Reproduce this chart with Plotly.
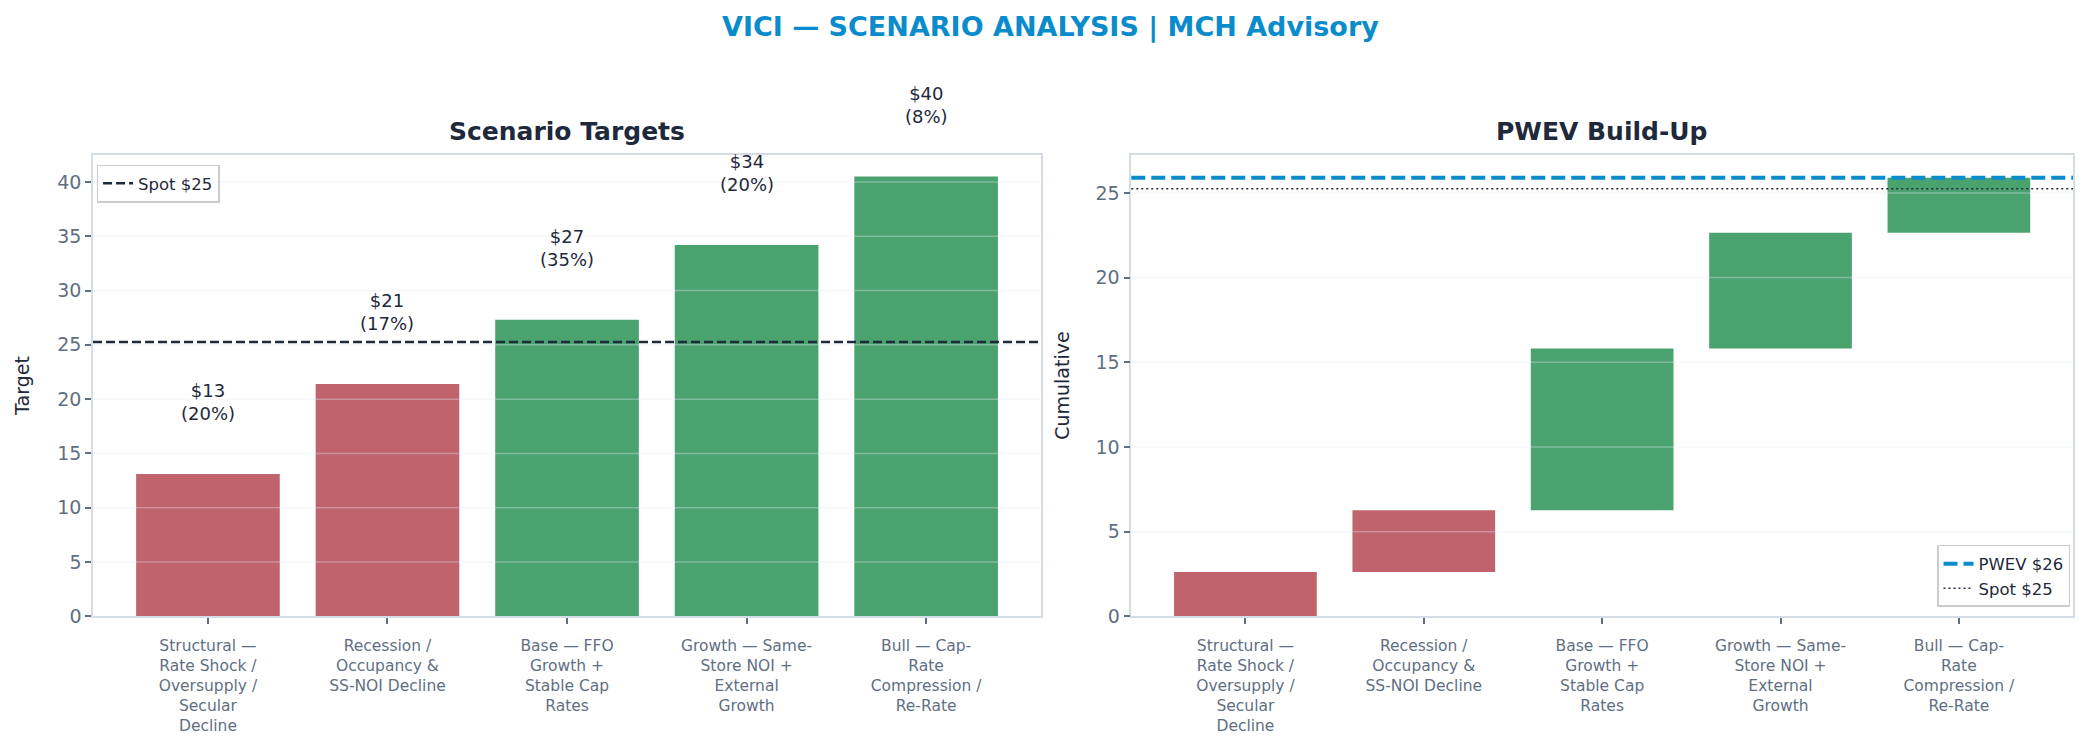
import plotly.graph_objects as go

# scenario data
scenarios = [
    "Structural —<br>Rate Shock /<br>Oversupply /<br>Secular<br>Decline",
    "Recession /<br>Occupancy &<br>SS-NOI Decline",
    "Base — FFO<br>Growth +<br>Stable Cap<br>Rates",
    "Growth — Same-<br>Store NOI +<br>External<br>Growth",
    "Bull — Cap-<br>Rate<br>Compression /<br>Re-Rate",
]
targets = [13.1, 21.4, 27.3, 34.2, 40.5]
probs = [0.20, 0.17, 0.35, 0.20, 0.08]
spot = 25.25
left_ticks = [0, 5, 10, 15, 20, 25, 30, 35, 40]
right_ticks = [0, 5, 10, 15, 20, 25]

RED = "#c0636d"
GREEN = "#4aa36f"
BLUE = "#0a8ccc"
DARK = "#1e293b"
SLATE = "#5f6f83"
FRAME = "#d5dce6"
FONT = "DejaVu Sans"

LEFT_DOM = [0.0408, 0.4957]
RIGHT_DOM = [0.539, 0.9909]
Y_DOM = [0.1678, 0.7992]
LEFT_MAX = 42.5
RIGHT_MAX = 27.25

xs = list(range(len(scenarios)))
colors = [RED if t < spot else GREEN for t in targets]

# waterfall pieces for the PWEV build-up
contrib = [t * p for t, p in zip(targets, probs)]
cum = []
run = 0.0
for c in contrib:
    cum.append(run)
    run += c
pwev = run

fig = go.Figure()

fig.add_trace(go.Bar(
    x=xs, y=targets, marker=dict(color=colors, line=dict(width=0)),
    width=0.8, showlegend=False, xaxis="x", yaxis="y",
))
fig.add_trace(go.Bar(
    x=xs, y=contrib, base=cum, marker=dict(color=colors, line=dict(width=0)),
    width=0.8, showlegend=False, xaxis="x2", yaxis="y2",
))

shapes = []
# grid lines drawn over the bars (matplotlib style)
for v in left_ticks[1:]:
    shapes.append(dict(type="line", xref="x domain", yref="y", x0=0, x1=1, y0=v, y1=v,
                       line=dict(color="rgba(226,232,240,0.35)", width=1.5), layer="above"))
for v in right_ticks[1:]:
    shapes.append(dict(type="line", xref="x2 domain", yref="y2", x0=0, x1=1, y0=v, y1=v,
                       line=dict(color="rgba(226,232,240,0.35)", width=1.5), layer="above"))

shapes.append(dict(type="line", xref="x domain", yref="y", x0=0, x1=1, y0=spot, y1=spot,
                   line=dict(color=DARK, width=2.5, dash="9px,4px"), layer="above",
                   showlegend=True, name=f"Spot ${spot:.0f}", legend="legend"))
shapes.append(dict(type="line", xref="x2 domain", yref="y2", x0=0, x1=1, y0=pwev, y1=pwev,
                   line=dict(color=BLUE, width=4, dash="14px,6px"), layer="above",
                   showlegend=True, name=f"PWEV ${pwev:.0f}", legend="legend2"))
shapes.append(dict(type="line", xref="x2 domain", yref="y2", x0=0, x1=1, y0=spot, y1=spot,
                   line=dict(color=DARK, width=1.5, dash="2px,3px"), layer="above",
                   showlegend=True, name=f"Spot ${spot:.0f}", legend="legend2"))

annotations = []
# value labels sit above the bars, some outside the plot area -> place in domain units
for x, t, p in zip(xs, targets, probs):
    annotations.append(dict(
        x=x, y=(t + 6.6) / LEFT_MAX, xref="x", yref="y domain",
        text=f"${t:.0f}<br>({p:.0%})", showarrow=False,
        xanchor="center", yanchor="middle", font=dict(family=FONT, size=18, color=DARK),
    ))

annotations.append(dict(x=0.5, y=1 - 19 / 742, xref="paper", yref="paper",
                        xanchor="center", yanchor="middle",
                        text="<b>VICI — SCENARIO ANALYSIS | MCH Advisory</b>",
                        showarrow=False, font=dict(family=FONT, size=27, color=BLUE)))
annotations.append(dict(x=sum(LEFT_DOM) / 2, y=1 - 125 / 742, xref="paper", yref="paper",
                        xanchor="center", yanchor="middle",
                        text="<b>Scenario Targets</b>", showarrow=False,
                        font=dict(family=FONT, size=25, color=DARK)))
annotations.append(dict(x=sum(RIGHT_DOM) / 2, y=1 - 125 / 742, xref="paper", yref="paper",
                        xanchor="center", yanchor="middle",
                        text="<b>PWEV Build-Up</b>", showarrow=False,
                        font=dict(family=FONT, size=25, color=DARK)))

xaxis_common = dict(
    tickmode="array", tickvals=xs, ticktext=scenarios, range=[-0.64, 4.64],
    showgrid=False, zeroline=False, showline=True, mirror=True, linecolor=FRAME, linewidth=1.5,
    ticks="outside", ticklen=6, tickwidth=1.5, tickcolor=SLATE, ticklabelstandoff=8,
    tickfont=dict(family=FONT, size=15.5, color=SLATE),
)
yaxis_common = dict(
    showgrid=False, zeroline=False, showline=True, mirror=True, linecolor=FRAME, linewidth=1.5,
    ticks="outside", ticklen=6, tickwidth=1.5, tickcolor=SLATE,
    tickfont=dict(family=FONT, size=19, color=SLATE),
)

fig.update_layout(
    width=2084, height=742,
    margin=dict(l=0, r=0, t=0, b=0),
    paper_bgcolor="white", plot_bgcolor="white",
    font=dict(family=FONT, color=DARK),
    barmode="overlay",
    xaxis=dict(domain=LEFT_DOM, anchor="y", **xaxis_common),
    yaxis=dict(domain=Y_DOM, anchor="x", range=[0, LEFT_MAX], tickvals=left_ticks,
               title=dict(text="Target", standoff=23, font=dict(family=FONT, size=19, color=DARK)),
               **yaxis_common),
    xaxis2=dict(domain=RIGHT_DOM, anchor="y2", **xaxis_common),
    yaxis2=dict(domain=Y_DOM, anchor="x2", range=[0, RIGHT_MAX], tickvals=right_ticks,
                title=dict(text="Cumulative", standoff=21, font=dict(family=FONT, size=19, color=DARK)),
                **yaxis_common),
    shapes=shapes,
    annotations=annotations,
    legend=dict(x=0.0425, y=1 - 159 / 742, xanchor="left", yanchor="top",
                bgcolor="white", bordercolor="#cccccc", borderwidth=1.5,
                font=dict(family=FONT, size=16.5, color=DARK)),
    legend2=dict(x=2062 / 2084, y=1 - 608 / 742, xanchor="right", yanchor="bottom",
                 bgcolor="white", bordercolor="#cccccc", borderwidth=1.5,
                 font=dict(family=FONT, size=16.5, color=DARK)),
)

fig.write_html("out.html")
